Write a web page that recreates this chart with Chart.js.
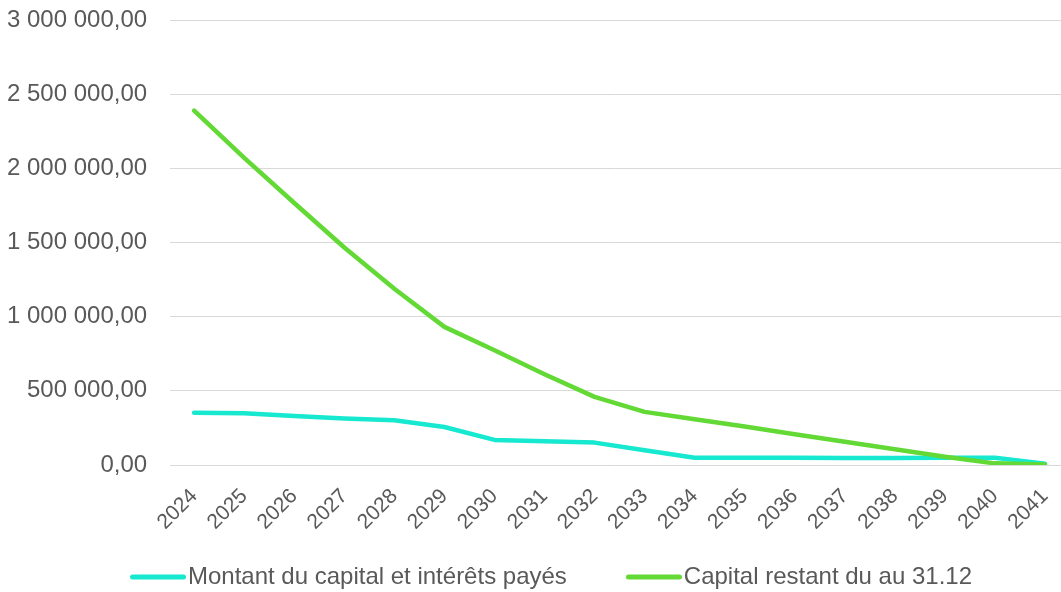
<!DOCTYPE html>
<html>
<head>
<meta charset="utf-8">
<script src="https://cdn.jsdelivr.net/npm/chart.js@4"></script>
<style>
  html, body { margin: 0; padding: 0; background: #fff; }
  #wrap { width: 1061px; height: 592px; position: relative; }
</style>
</head>
<body>
<div id="wrap"><canvas id="chart"></canvas></div>
<script>
const years = [2024, 2025, 2026, 2027, 2028, 2029, 2030, 2031, 2032, 2033, 2034, 2035, 2036, 2037, 2038, 2039, 2040, 2041];

// Montant du capital et intérêts payés
const paid = [353000, 349000, 331000, 313000, 301000, 256000, 169000, 160000, 151000, 100000, 49000, 49000, 49000, 48000, 48000, 49000, 49000, 9000];

// Capital restant du au 31.12
const remaining = [2389000, 2070000, 1766000, 1466000, 1188000, 931000, 774000, 612000, 459000, 358000, 308000, 259000, 207000, 157000, 106000, 56000, 11000, 3000];

const yTicks = [0, 500000, 1000000, 1500000, 2000000, 2500000, 3000000];

const font = 'Liberation Sans, Arial, sans-serif';
const cyan = '#17e8d0';
const green = '#62d934';

function frNumber(v) {
    // French style: space as thousands separator, comma for decimals
    const whole = Math.round(v).toString().replace(/\B(?=(\d{3})+(?!\d))/g, ' ');
    return whole + ',00';
}

// legend swatch: a short thick line sitting right before the label text
function swatch(color) {
    const c = document.createElement('canvas');
    c.width = 100;
    c.height = 6;
    const g = c.getContext('2d');
    g.strokeStyle = color;
    g.lineWidth = 5;
    g.lineCap = 'round';
    g.beginPath();
    g.moveTo(c.width - 56 + 2.5, 3);
    g.lineTo(c.width - 2.5, 3);
    g.stroke();
    return c;
}

const ctx = document.getElementById('chart');
new Chart(ctx, {
    type: 'line',
    data: {
        datasets: [
            {
                label: 'Montant du capital et intérêts payés',
                data: years.map((y, i) => ({ x: y, y: paid[i] })),
                borderColor: cyan,
                backgroundColor: cyan,
                borderWidth: 4.5,
                pointRadius: 0,
                pointStyle: swatch(cyan),
                borderCapStyle: 'round',
                borderJoinStyle: 'round',
                order: 1
            },
            {
                label: 'Capital restant du au 31.12',
                data: years.map((y, i) => ({ x: y, y: remaining[i] })),
                borderColor: green,
                backgroundColor: green,
                borderWidth: 4.5,
                pointRadius: 0,
                pointStyle: swatch(green),
                borderCapStyle: 'round',
                borderJoinStyle: 'round',
                order: 0
            }
        ]
    },
    options: {
        responsive: true,
        maintainAspectRatio: false,
        animation: false,
        layout: { padding: { top: 20, right: 0, left: 7, bottom: -7 } },
        plugins: {
            tooltip: { enabled: false },
            legend: {
                position: 'bottom',
                labels: {
                    color: '#595959',
                    font: { family: font, size: 24 },
                    usePointStyle: true,
                    pointStyleWidth: 80,
                    padding: 25,
                    sort: (a, b) => a.datasetIndex - b.datasetIndex
                }
            }
        },
        scales: {
            x: {
                type: 'linear',
                min: 2023.52,
                max: 2041.32,
                afterBuildTicks: (axis) => { axis.ticks = years.map(v => ({ value: v })); },
                afterFit: (axis) => {
                    axis.paddingLeft = 0;
                    axis.paddingRight = 0;
                    axis.height = 75;
                },
                grid: { display: false, drawTicks: false },
                border: { display: false },
                ticks: {
                    autoSkip: false,
                    minRotation: 45,
                    maxRotation: 45,
                    padding: 19,
                    color: '#595959',
                    font: { family: font, size: 21 },
                    callback: (v) => String(v)
                }
            },
            y: {
                min: 0,
                max: 3000000,
                afterBuildTicks: (axis) => { axis.ticks = yTicks.map(v => ({ value: v })); },
                afterFit: (axis) => {
                    axis.paddingTop = 0;
                    axis.paddingBottom = 0;
                    axis.width -= axis.options.ticks.padding;
                },
                grid: { color: '#d9d9d9', lineWidth: 1, drawTicks: false },
                border: { display: false },
                ticks: {
                    padding: 23,
                    color: '#595959',
                    font: { family: font, size: 24 },
                    callback: (v) => frNumber(v)
                }
            }
        }
    }
});
</script>
</body>
</html>
